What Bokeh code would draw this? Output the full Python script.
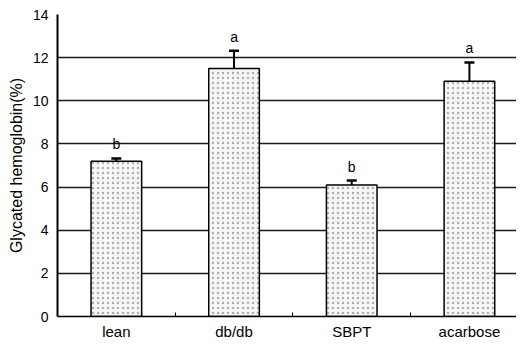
from bokeh.plotting import figure
from bokeh.models import FixedTicker, Whisker, TeeHead, ColumnDataSource, Range1d
from bokeh.embed import file_html
from bokeh.resources import INLINE
from bokeh.core.properties import value

categories = ["lean", "db/db", "SBPT", "acarbose"]
hba1c = [7.2, 11.5, 6.1, 10.9]
sem = [0.13, 0.82, 0.2, 0.88]
letters = ["b", "a", "b", "a"]
y_ticks = [0, 2, 4, 6, 8, 10, 12, 14]

FONT = "Liberation Sans"

x = [i + 0.5 for i in range(len(categories))]
upper = [v + e for v, e in zip(hba1c, sem)]
src = ColumnDataSource(dict(x=x, top=hba1c, upper=upper, letter=letters))

p = figure(width=516, height=342,
           x_range=Range1d(0, len(categories) - 0.1),
           y_range=Range1d(y_ticks[0], y_ticks[-1]),
           output_backend="svg", toolbar_location=None,
           min_border_left=57, min_border_right=0,
           min_border_top=14, min_border_bottom=24)
p.outline_line_color = None
p.background_fill_color = "white"
p.border_fill_color = "white"

# grid
p.xgrid.grid_line_color = None
p.ygrid.ticker = FixedTicker(ticks=y_ticks[1:])
p.ygrid.grid_line_color = "#1a1a1a"
p.ygrid.grid_line_width = 1.5

# bars
p.vbar(x="x", top="top", width=0.43, bottom=0, source=src,
       fill_color="#f7f7f7", line_color="black", line_width=1.5,
       hatch_pattern="dot", hatch_color="#b0b0b0", hatch_scale=5, hatch_weight=1)

# error bars (upper only)
w = Whisker(base="x", lower="top", upper="upper", source=src, dimension="height",
            line_color="black", line_width=2,
            upper_head=TeeHead(size=10, line_color="black", line_width=2.5),
            lower_head=None)
p.add_layout(w)

# significance letters
p.text(x="x", y="upper", text="letter", source=src, text_align="center",
       text_baseline="bottom", y_offset=-6, text_font=value(FONT),
       text_font_size="14px", text_color="black")

# y axis
p.yaxis.ticker = FixedTicker(ticks=y_ticks)
p.yaxis.major_tick_out = 0
p.yaxis.major_tick_in = 0
p.yaxis.minor_tick_out = 0
p.yaxis.minor_tick_in = 0
p.yaxis.axis_line_width = 2
p.yaxis.axis_line_color = "black"
p.yaxis.major_label_standoff = 9
p.yaxis.major_label_text_font = FONT
p.yaxis.major_label_text_font_size = "14px"
p.yaxis.major_label_text_color = "black"
p.yaxis.axis_label = "Glycated hemoglobin(%)"
p.yaxis.axis_label_standoff = 5
p.yaxis.axis_label_text_font = FONT
p.yaxis.axis_label_text_font_size = "16px"
p.yaxis.axis_label_text_font_style = "normal"
p.yaxis.axis_label_text_color = "black"

# x axis
boundaries = [float(i) for i in range(1, len(categories))]
p.xaxis.ticker = FixedTicker(ticks=x, minor_ticks=boundaries)
p.xaxis.major_label_overrides = {xi: c for xi, c in zip(x, categories)}
p.xaxis.major_tick_out = 0
p.xaxis.major_tick_in = 0
p.xaxis.minor_tick_out = 0
p.xaxis.minor_tick_in = 4
p.xaxis.minor_tick_line_color = "black"
p.xaxis.axis_line_width = 1.5
p.xaxis.axis_line_color = "black"
p.xaxis.major_label_standoff = 6
p.xaxis.major_label_text_font = FONT
p.xaxis.major_label_text_font_size = "15px"
p.xaxis.major_label_text_color = "black"

open("out.html", "w").write(file_html(p, INLINE))
